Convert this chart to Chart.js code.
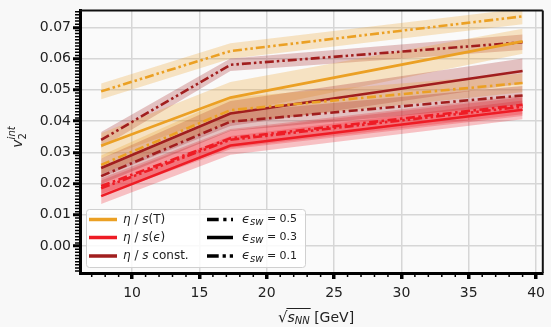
<!DOCTYPE html>
<html>
<head>
<meta charset="utf-8">
<script src="https://cdn.jsdelivr.net/npm/chart.js@4/dist/chart.umd.min.js"></script>
<style>
  html, body { margin: 0; padding: 0; background: #f8f8f8; }
  #wrap { width: 551px; height: 327px; }
</style>
</head>
<body>
<div id="wrap"><canvas id="c" width="551" height="327"></canvas></div>
<script>
// ---- data ----
const energies = [7.7, 17.3, 39];
const xTicks = [10, 15, 20, 25, 30, 35, 40];
const yTicks = [0.00, 0.01, 0.02, 0.03, 0.04, 0.05, 0.06, 0.07];

// eta/s(T)  (orange)
const etaT_sw05 = [0.0260, 0.0435, 0.0522];
const etaT_sw03 = [0.0321, 0.0475, 0.0655];
const etaT_sw01 = [0.0495, 0.0624, 0.0735];
const etaT_err05 = [0.0030, 0.0040, 0.0030];
const etaT_err03 = [0.0040, 0.0050, 0.0040];
const etaT_err01 = [0.0025, 0.0025, 0.0025];

// eta/s(eps)  (red)
const etaE_sw05 = [0.0192, 0.0345, 0.0452];
const etaE_sw03 = [0.0160, 0.0322, 0.0436];
const etaE_sw01 = [0.0185, 0.0340, 0.0446];
const etaE_err05 = [0.0025, 0.0030, 0.0030];
const etaE_err03 = [0.0025, 0.0030, 0.0030];
const etaE_err01 = [0.0025, 0.0030, 0.0030];

// eta/s const  (dark red)
const etaC_sw05 = [0.0224, 0.0398, 0.0482];
const etaC_sw03 = [0.0250, 0.0424, 0.0560];
const etaC_sw01 = [0.0340, 0.0580, 0.0652];
const etaC_err05 = [0.0025, 0.0030, 0.0030];
const etaC_err03 = [0.0030, 0.0040, 0.0040];
const etaC_err01 = [0.0025, 0.0020, 0.0025];

// ---- styles ----
const colT = '#eba024', colE = '#ee1c25', colC = '#a11e1e';
const bandT = 'rgba(235,160,36,0.26)', bandE = 'rgba(238,28,37,0.26)', bandC = 'rgba(161,30,30,0.26)';
const dash05 = [9, 3.5, 2.5, 3.5];
const dash03 = [];
const dash01 = [9, 3, 2.5, 3, 2.5, 3];

const seriesList = [
  {vals: etaC_sw05, err: etaC_err05, col: colC, band: bandC, dash: dash05},
  {vals: etaE_sw05, err: etaE_err05, col: colE, band: bandE, dash: dash05},
  {vals: etaT_sw05, err: etaT_err05, col: colT, band: bandT, dash: dash05},
  {vals: etaC_sw03, err: etaC_err03, col: colC, band: bandC, dash: dash03},
  {vals: etaE_sw03, err: etaE_err03, col: colE, band: bandE, dash: dash03},
  {vals: etaT_sw03, err: etaT_err03, col: colT, band: bandT, dash: dash03},
  {vals: etaC_sw01, err: etaC_err01, col: colC, band: bandC, dash: dash01},
  {vals: etaE_sw01, err: etaE_err01, col: colE, band: bandE, dash: dash01},
  {vals: etaT_sw01, err: etaT_err01, col: colT, band: bandT, dash: dash01},
];

const datasets = [];
seriesList.forEach(s => {
  datasets.push({
    data: energies.map((x, i) => ({x: x, y: s.vals[i] + s.err[i]})),
    borderWidth: 0, pointRadius: 0, fill: false, order: 10,
    backgroundColor: s.band, borderColor: 'rgba(0,0,0,0)'
  });
  datasets.push({
    data: energies.map((x, i) => ({x: x, y: s.vals[i] - s.err[i]})),
    borderWidth: 0, pointRadius: 0, fill: '-1', order: 10,
    backgroundColor: s.band, borderColor: 'rgba(0,0,0,0)'
  });
});
seriesList.forEach(s => {
  datasets.push({
    data: energies.map((x, i) => ({x: x, y: s.vals[i]})),
    borderColor: s.col, borderWidth: 2.6, borderDash: s.dash,
    borderCapStyle: 'butt', pointRadius: 0, fill: false, tension: 0, order: 1
  });
});

const FONT = '"DejaVu Sans", sans-serif';

function drawSegs(ctx, x, y, segs, size) {
  segs.forEach(sg => {
    const sz = sg.sz || size;
    ctx.font = (sg.it ? 'italic ' : '') + sz + 'px ' + FONT;
    ctx.fillText(sg.t, x, y + (sg.dy || 0));
    x += ctx.measureText(sg.t).width;
  });
  return x;
}
function segsWidth(ctx, segs, size) {
  let w = 0;
  segs.forEach(sg => {
    const sz = sg.sz || size;
    ctx.font = (sg.it ? 'italic ' : '') + sz + 'px ' + FONT;
    w += ctx.measureText(sg.t).width;
  });
  return w;
}

const decor = {
  id: 'decor',
  beforeDraw(chart) {
    const ctx = chart.ctx;
    ctx.save();
    ctx.fillStyle = '#f8f8f8';
    ctx.fillRect(0, 0, chart.width, chart.height);
    const a = chart.chartArea;
    ctx.fillStyle = '#fafafa';
    ctx.fillRect(a.left, a.top, a.right - a.left, a.bottom - a.top);
    ctx.restore();
  },
  afterDraw(chart) {
    const ctx = chart.ctx, a = chart.chartArea;
    const xs = chart.scales.x, ys = chart.scales.y;
    ctx.save();
    // top & right spines
    ctx.strokeStyle = '#111';
    ctx.lineWidth = 2;
    ctx.beginPath();
    ctx.moveTo(a.left, a.top); ctx.lineTo(a.right, a.top);
    ctx.moveTo(a.right, a.top); ctx.lineTo(a.right, a.bottom);
    ctx.stroke();
    // minor ticks
    ctx.strokeStyle = '#000';
    ctx.lineWidth = 1.5;
    ctx.beginPath();
    for (let v = 7; v <= 40; v++) {
      if (v % 5 === 0) continue;
      const px = xs.getPixelForValue(v);
      ctx.moveTo(px, a.bottom); ctx.lineTo(px, a.bottom + 4);
    }
    for (let k = -8; k <= 75; k++) {
      if (k % 10 === 0) continue;
      const py = ys.getPixelForValue(k / 1000);
      ctx.moveTo(a.left - 5, py); ctx.lineTo(a.left, py);
    }
    ctx.stroke();

    // legend
    const lx = 86, ly = 209, lw = 219, lh = 58;
    ctx.fillStyle = 'rgba(255,255,255,0.85)';
    ctx.strokeStyle = '#d0d0d0';
    ctx.lineWidth = 1;
    ctx.beginPath();
    ctx.roundRect(lx + 0.5, ly + 0.5, lw, lh, 3);
    ctx.fill(); ctx.stroke();
    const rows = [219.5, 237.5, 256];
    const leftCols = [colT, colE, colC];
    const leftLabels = [
      [{t: 'η', it: true}, {t: ' / '}, {t: 's', it: true}, {t: '(T)'}],
      [{t: 'η', it: true}, {t: ' / '}, {t: 's', it: true}, {t: '('}, {t: 'ϵ', it: true}, {t: ')'}],
      [{t: 'η', it: true}, {t: ' / '}, {t: 's', it: true}, {t: ' const.'}],
    ];
    const rightDash = [dash05, dash03, dash01];
    const rightVals = ['0.5', '0.3', '0.1'];
    ctx.textBaseline = 'middle';
    ctx.fillStyle = '#222';
    rows.forEach((ry, i) => {
      ctx.strokeStyle = leftCols[i];
      ctx.lineWidth = 3.5;
      ctx.setLineDash([]);
      ctx.beginPath(); ctx.moveTo(89, ry); ctx.lineTo(117, ry); ctx.stroke();
      ctx.fillStyle = '#222';
      drawSegs(ctx, 123, ry, leftLabels[i], 12);
      ctx.strokeStyle = '#000';
      ctx.setLineDash(rightDash[i].map(d => d * 1.3));
      ctx.beginPath(); ctx.moveTo(207, ry); ctx.lineTo(233, ry); ctx.stroke();
      ctx.setLineDash([]);
      drawSegs(ctx, 242, ry, [{t: 'ϵ', it: true, sz: 13}, {t: 'sw', it: true, sz: 10, dy: 3}, {t: ' = ' + rightVals[i], sz: 11}], 12);
    });

    // x axis title
    ctx.fillStyle = '#222';
    ctx.textBaseline = 'alphabetic';
    const xsegs = [{t: '√', sz: 15}, {t: 's', it: true}, {t: 'NN', it: true, sz: 10, dy: 2}, {t: ' [GeV]'}];
    const xw = segsWidth(ctx, xsegs, 14);
    const xcx = 316;
    const x0 = xcx - xw / 2, by = 322;
    drawSegs(ctx, x0, by, xsegs, 14);
    ctx.font = '15px ' + FONT;
    const sqw = ctx.measureText('√').width;
    ctx.font = 'italic 14px ' + FONT;
    const sw1 = ctx.measureText('s').width;
    ctx.font = 'italic 10px ' + FONT;
    const sw2 = ctx.measureText('NN').width;
    ctx.strokeStyle = '#222'; ctx.lineWidth = 1;
    ctx.beginPath();
    ctx.moveTo(x0 + sqw - 1, by - 13.5); ctx.lineTo(x0 + sqw + sw1 + sw2 + 1, by - 13.5);
    ctx.stroke();

    // y axis title
    ctx.save();
    ctx.translate(22, 137);
    ctx.rotate(-Math.PI / 2);
    ctx.textBaseline = 'alphabetic';
    ctx.font = 'italic 14px ' + FONT;
    const vw = ctx.measureText('v').width;
    ctx.font = 'italic 10px ' + FONT;
    const iw = ctx.measureText('int').width;
    const total = vw + iw;
    const yx = -total / 2;
    ctx.font = 'italic 14px ' + FONT;
    ctx.fillText('v', yx, 0);
    ctx.font = '10px ' + FONT;
    ctx.fillText('2', yx + vw, 4);
    ctx.font = 'italic 10px ' + FONT;
    ctx.fillText('int', yx + vw, -7);
    ctx.restore();

    ctx.restore();
  }
};

new Chart(document.getElementById('c'), {
  type: 'line',
  data: { datasets: datasets },
  plugins: [decor],
  options: {
    responsive: false,
    animation: false,
    layout: { padding: { top: 7, right: 2, left: 0, bottom: 0 } },
    plugins: { legend: { display: false }, tooltip: { enabled: false } },
    scales: {
      x: {
        type: 'linear', min: 6.13, max: 40.5,
        afterBuildTicks: s => { s.ticks = xTicks.map(v => ({value: v})); },
        afterFit: s => { s.height = 54; },
        grid: { color: '#d6d6d6', lineWidth: 1.5, tickColor: '#000', tickWidth: 3.5, tickLength: 6 },
        border: { display: true, color: '#000', width: 3 },
        ticks: { color: '#222', font: { family: FONT, size: 14 }, padding: 6, maxRotation: 0,
                 callback: v => String(v) }
      },
      y: {
        type: 'linear', min: -0.0086, max: 0.0754,
        afterBuildTicks: s => { s.ticks = yTicks.map(v => ({value: v})); },
        afterFit: s => { s.width = 80; },
        grid: { color: '#d6d6d6', lineWidth: 1.5, tickColor: '#000', tickWidth: 3, tickLength: 7 },
        border: { display: true, color: '#000', width: 3 },
        ticks: { color: '#222', font: { family: FONT, size: 14 }, padding: 2,
                 callback: v => v.toFixed(2) }
      }
    }
  }
});
</script>
</body>
</html>
